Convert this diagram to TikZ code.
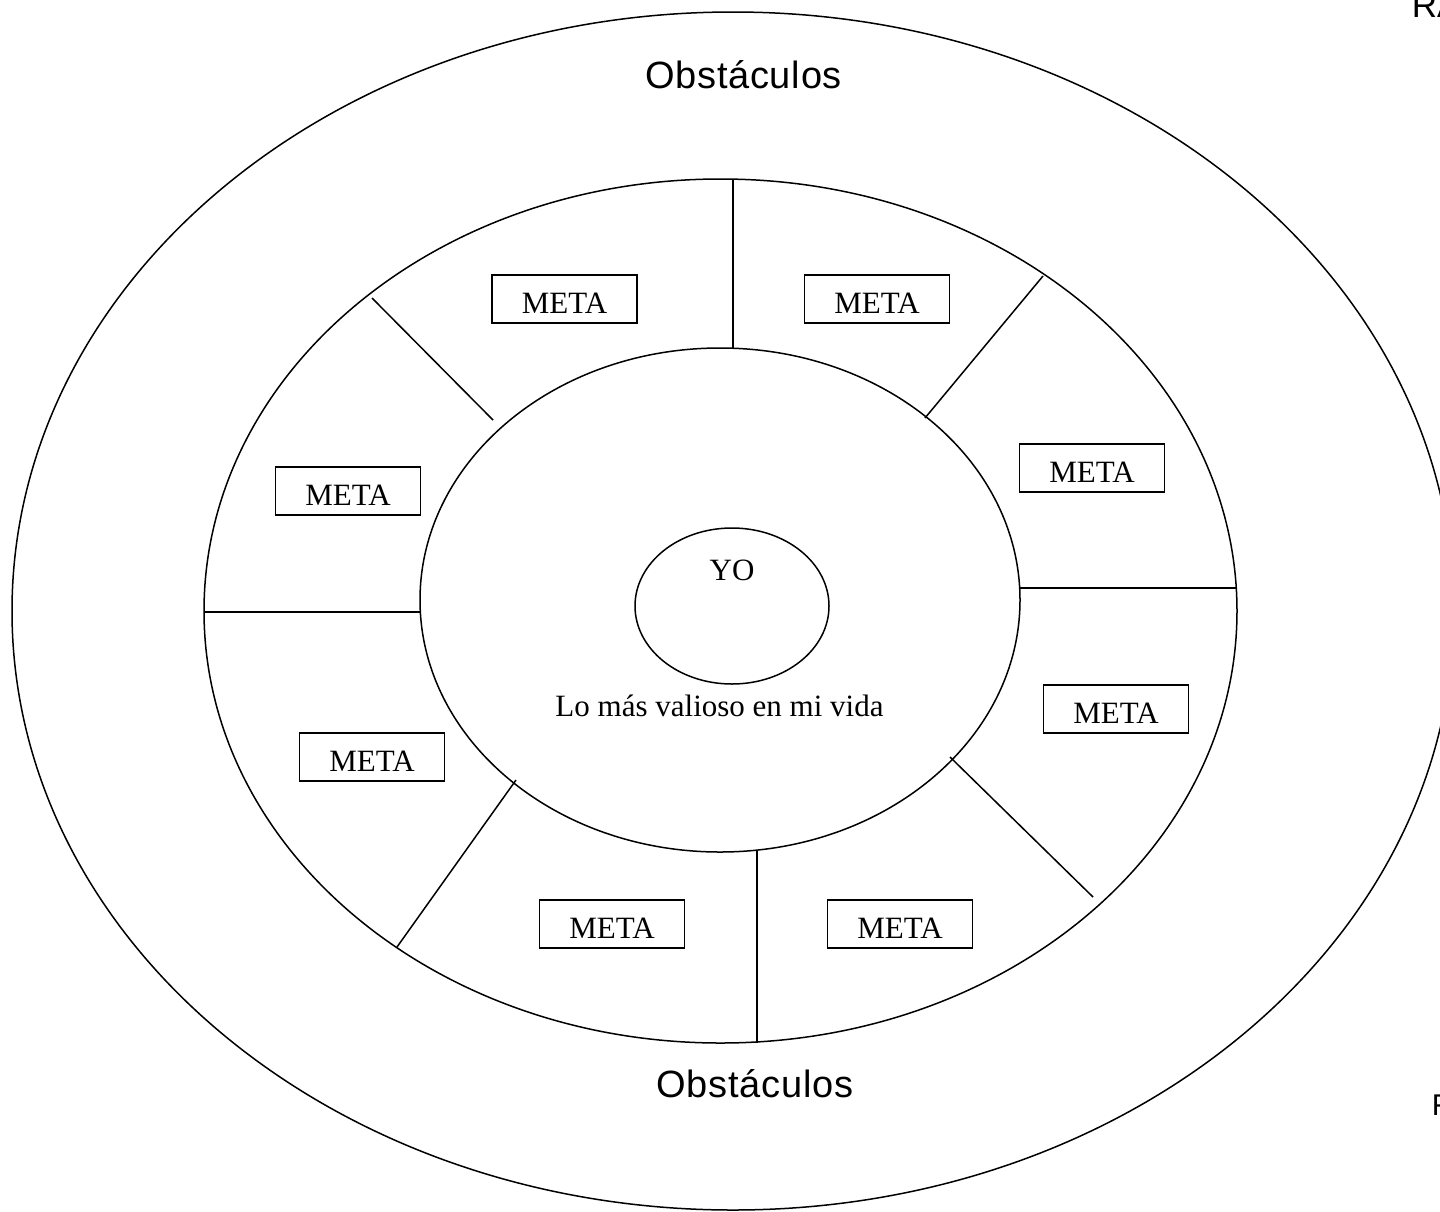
\documentclass[tikz,border=0pt]{standalone}
\usepackage{fontspec}
\setmainfont{Liberation Serif}
\newfontfamily\arialf{Liberation Sans}
\usetikzlibrary{shapes.geometric}
\begin{document}
\begin{tikzpicture}[x=1pt,y=-1pt,line width=1.5pt,
  ring/.style={line width=1.5pt},
  divider/.style={line width=1.5pt},
  metabox/.style={draw,line width=1.3pt,minimum width=145pt,inner xsep=0pt,inner ysep=0pt,text height=38pt,text depth=10pt,font=\fontsize{31}{34}\selectfont},
  serif/.style={inner sep=0pt,font=\fontsize{31}{34}\selectfont},
  obst/.style={inner sep=0pt,font=\arialf\fontsize{38}{42}\selectfont\addfontfeature{LetterSpace=2}},
  edge/.style={inner sep=0pt,font=\arialf\fontsize{35}{40}\selectfont}]
\useasboundingbox (0,0) rectangle (1440,1211);
% rings
\draw[ring] (733,611) ellipse [x radius=721pt, y radius=599pt];
\draw[ring] (720.5,611) ellipse [x radius=516.5pt, y radius=432pt];
\draw[ring] (720,600) ellipse [x radius=300pt, y radius=252pt];
% dividers
\draw[divider] (733,180) -- (733,349);
\draw[divider] (1043,276) -- (925,418);
\draw[divider] (1020,588) -- (1237,588);
\draw[divider] (950,757) -- (1093,897);
\draw[divider] (757,851) -- (757,1043);
\draw[divider] (516,780) -- (397,947);
\draw[divider] (204,612) -- (420,612);
\draw[divider] (372,298) -- (493,420);
% YO
\node[draw,ellipse,line width=1.5pt,minimum width=194pt,minimum height=156pt,inner sep=0pt] (yo) at (732,606) {};
\node[serif,anchor=base] (yotext) at (732,580) {YO};
\node[serif,anchor=base] (valioso) at (719.5,716) {Lo más valioso en mi vida};
% METAs
\node[metabox] (m1) at (564.5,299) {META};
\node[metabox] (m2) at (877,299) {META};
\node[metabox] (m3) at (1092,468) {META};
\node[metabox] (m4) at (348,491) {META};
\node[metabox] (m5) at (1116,709) {META};
\node[metabox] (m6) at (372,757) {META};
\node[metabox] (m7) at (612,924) {META};
\node[metabox] (m8) at (900,924) {META};
% Obstaculos
\node[obst,anchor=base] (obtop) at (743.5,88) {Obstáculos};
\node[obst,anchor=base] (obbot) at (755,1097) {Obstáculos};
% cut-off page texts
\node[edge,anchor=base west] (ra) at (1411,17) {RA};
\node[inner sep=0pt,font=\arialf\fontsize{30}{34}\selectfont,anchor=base west] (f) at (1431,1115) {F};
\end{tikzpicture}
\end{document}
